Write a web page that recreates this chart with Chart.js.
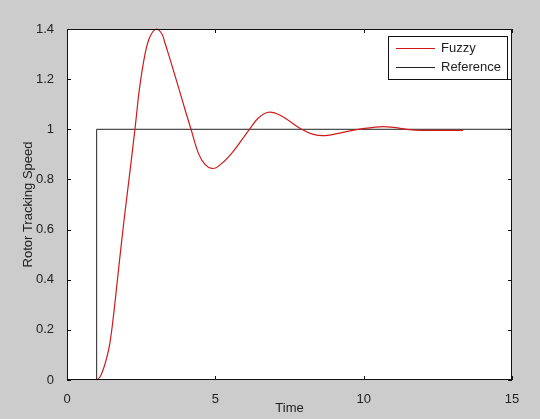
<!DOCTYPE html>
<html>
<head>
<meta charset="utf-8">
<script src="https://cdn.jsdelivr.net/npm/chart.js@4/dist/chart.umd.min.js"></script>
<style>
  html, body { margin: 0; padding: 0; background: #cccccc; }
  #wrap { width: 540px; height: 419px; }
</style>
</head>
<body>
<div id="wrap"><canvas id="plot" width="540" height="419"></canvas></div>
<script>
// values
const fuzzyTime  = [1.0, 1.1, 1.2, 1.32, 1.45, 1.58, 1.70, 1.82, 1.95, 2.1, 2.3, 2.44, 2.63, 2.8, 3.02, 3.2, 3.3, 3.42, 3.6, 3.75, 4.0, 4.18, 4.43, 4.65, 4.88, 5.1, 5.55, 6.15, 6.45, 6.79, 7.2, 7.91, 8.3, 8.7, 9.2, 9.82, 10.55, 11.0, 11.45, 12.0, 13.35];
const fuzzyValue = [0, 0.01, 0.035, 0.08, 0.15, 0.27, 0.40, 0.53, 0.665, 0.81, 1.01, 1.16, 1.30, 1.37, 1.40, 1.38, 1.345, 1.30, 1.23, 1.17, 1.07, 1.0, 0.904, 0.86, 0.844, 0.852, 0.904, 1.0, 1.045, 1.068, 1.055, 1.0, 0.98, 0.975, 0.985, 1.0, 1.01, 1.008, 1.0, 0.996, 0.996];
const refTime  = [1, 1, 15];
const refValue = [0, 1, 1];
const xTicks = [0, 5, 10, 15];
const yTicks = [0, 0.2, 0.4, 0.6, 0.8, 1, 1.2, 1.4];

const FONT = '"Liberation Sans", Arial, sans-serif';
const TEXT = '#222222';

const toPoints = (xs, ys) => xs.map((x, i) => ({ x: x, y: ys[i] }));

// gray figure, white axes, box with inward ticks, legend
const matlabFrame = {
    id: 'matlabFrame',
    beforeDraw(chart) {
        const { ctx, chartArea: a } = chart;
        ctx.save();
        ctx.fillStyle = '#cccccc';
        ctx.fillRect(0, 0, chart.width, chart.height);
        ctx.fillStyle = '#ffffff';
        ctx.fillRect(a.left, a.top, a.right - a.left, a.bottom - a.top);
        ctx.restore();
    },
    afterDatasetsDraw(chart) {
        const { ctx, chartArea: a, scales } = chart;
        ctx.save();
        ctx.strokeStyle = '#111111';
        ctx.lineWidth = 1;
        ctx.strokeRect(a.left + 0.5, a.top + 0.5, a.right - a.left - 1, a.bottom - a.top - 1);

        // tick marks pointing into the plot
        const len = 4;
        ctx.beginPath();
        scales.x.ticks.forEach(t => {
            const px = Math.round(scales.x.getPixelForValue(t.value)) + 0.5;
            ctx.moveTo(px, a.bottom); ctx.lineTo(px, a.bottom - len);
            ctx.moveTo(px, a.top); ctx.lineTo(px, a.top + len);
        });
        scales.y.ticks.forEach(t => {
            const py = Math.round(scales.y.getPixelForValue(t.value)) + 0.5;
            ctx.moveTo(a.left, py); ctx.lineTo(a.left + len, py);
            ctx.moveTo(a.right, py); ctx.lineTo(a.right - len, py);
        });
        ctx.stroke();

        // legend box in the top right corner
        const bx = 388.5, by = 36.5, bw = 119, bh = 43;
        ctx.fillStyle = '#ffffff';
        ctx.fillRect(bx, by, bw, bh);
        ctx.strokeStyle = '#111111';
        ctx.strokeRect(bx, by, bw, bh);
        ctx.font = '13px ' + FONT;
        ctx.textBaseline = 'middle';
        ctx.textAlign = 'left';
        chart.data.datasets.forEach((ds, i) => {
            const y = 48 + i * 19 + 0.5;
            ctx.strokeStyle = ds.borderColor;
            ctx.beginPath();
            ctx.moveTo(396, y); ctx.lineTo(435, y);
            ctx.stroke();
            ctx.fillStyle = TEXT;
            ctx.fillText(ds.label, 441, y);
        });
        ctx.restore();
    }
};

new Chart(document.getElementById('plot'), {
    type: 'line',
    data: {
        datasets: [
            {
                label: 'Fuzzy',
                data: toPoints(fuzzyTime, fuzzyValue),
                borderColor: '#d01a1a',
                borderWidth: 1.2,
                pointRadius: 0,
                tension: 0.35,
                clip: 4,
            },
            {
                label: 'Reference',
                data: toPoints(refTime, refValue),
                borderColor: '#222222',
                borderWidth: 1,
                pointRadius: 0,
                tension: 0,
                clip: 4,
            },
        ]
    },
    options: {
        responsive: false,
        animation: false,
        events: [],
        layout: { padding: { left: 0, top: 29, right: 28, bottom: 0 } },
        plugins: {
            legend: { display: false },
            tooltip: { enabled: false },
        },
        scales: {
            x: {
                type: 'linear',
                min: 0,
                max: 15,
                afterBuildTicks: (scale) => { scale.ticks = xTicks.map(v => ({ value: v })); },
                afterFit: (scale) => { scale.height = 39; },
                grid: { display: false },
                border: { display: false },
                ticks: {
                    padding: 4,
                    maxRotation: 0,
                    color: TEXT,
                    font: { family: FONT, size: 13 },
                    callback: (v) => String(v),
                },
                title: {
                    display: true,
                    text: 'Time',
                    color: TEXT,
                    font: { family: FONT, size: 13 },
                    padding: { top: 0, bottom: 3 },
                },
            },
            y: {
                type: 'linear',
                min: 0,
                max: 1.4,
                afterBuildTicks: (scale) => { scale.ticks = yTicks.map(v => ({ value: v })); },
                afterFit: (scale) => { scale.width = 67; },
                grid: { display: false },
                border: { display: false },
                ticks: {
                    padding: 5,
                    color: TEXT,
                    font: { family: FONT, size: 13 },
                    callback: (v) => String(Number(v.toFixed(1))),
                },
                title: {
                    display: true,
                    text: 'Rotor Tracking Speed',
                    color: TEXT,
                    font: { family: FONT, size: 13 },
                    padding: { top: 21, bottom: 0 },
                },
            },
        },
    },
    plugins: [matlabFrame],
});
</script>
</body>
</html>
